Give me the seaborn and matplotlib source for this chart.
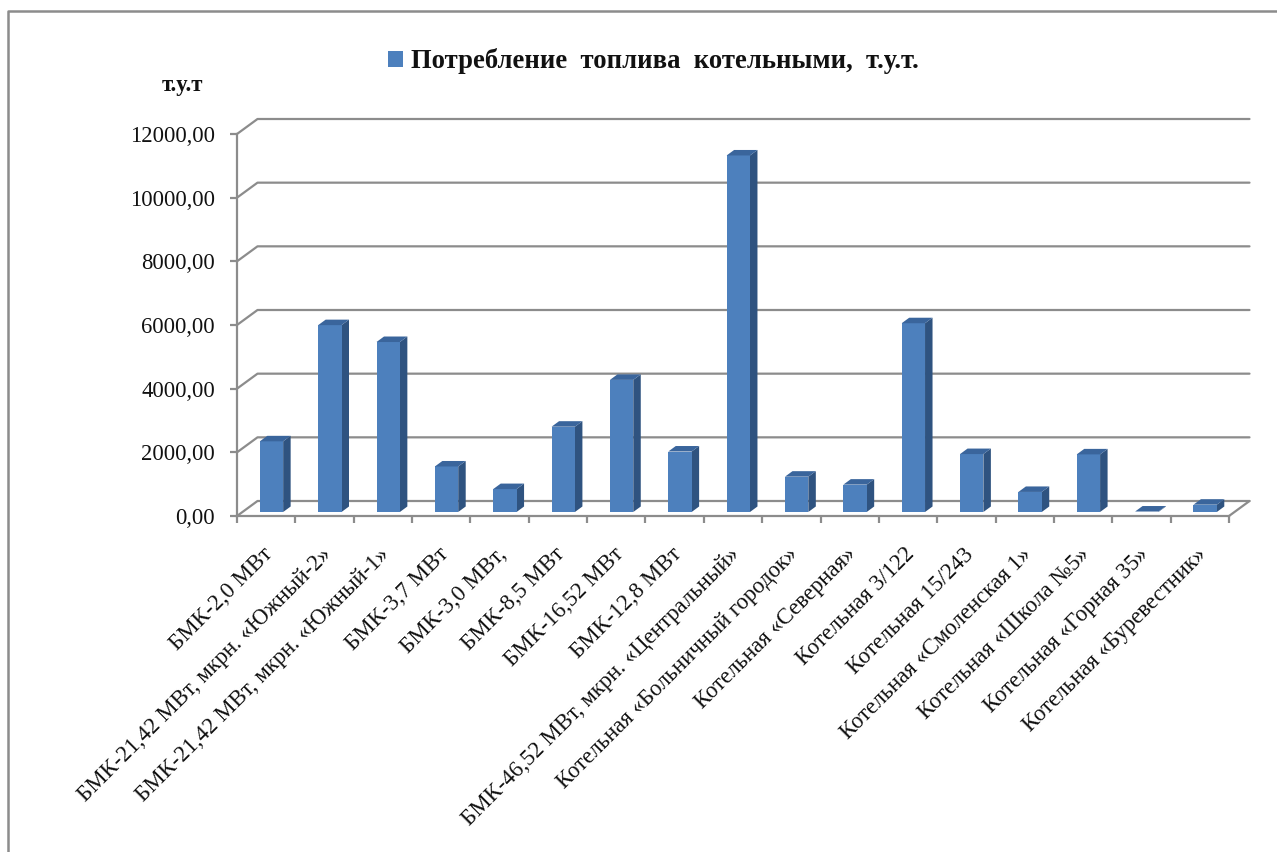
import matplotlib
matplotlib.use("Agg")
import matplotlib.pyplot as plt
from matplotlib.lines import Line2D
from matplotlib.patches import Polygon
from matplotlib.transforms import ScaledTranslation
import pandas as pd
import seaborn as sns

names = ["БМК-2,0 МВт", "БМК-21,42 МВт, мкрн. «Южный-2»", "БМК-21,42 МВт, мкрн. «Южный-1»",
         "БМК-3,7 МВт", "БМК-3,0 МВт,", "БМК-8,5 МВт", "БМК-16,52 МВт", "БМК-12,8 МВт",
         "БМК-46,52 МВт, мкрн. «Центральный»", "Котельная «Больничный городок»",
         "Котельная «Северная»", "Котельная 3/122", "Котельная 15/243",
         "Котельная «Смоленская 1»", "Котельная «Школа №5»", "Котельная «Горная 35»",
         "Котельная «Буревестник»"]
values = [2220, 5870, 5340, 1430, 720, 2680, 4150, 1900, 11200, 1110, 860, 5930, 1820, 630, 1810, 15, 230]
yticks = [0, 2000, 4000, 6000, 8000, 10000, 12000]
series = "Потребление  топлива  котельными,  т.у.т."

W, H = 1277, 852
sns.set_theme(style="white")
plt.rcParams["font.family"] = ["Liberation Serif", "DejaVu Serif"]
GRAY = "#8c8c8c"
FRONT, SIDE, TOP = "#4d80bd", "#2f5380", "#3a659c"
INK = "#111111"

fig = plt.figure(figsize=(W / 100, H / 100), dpi=100)

def make_axes(l, r, top, bottom):
    return fig.add_axes([l / W, 1 - bottom / H, (r - l) / W, (bottom - top) / H])

ax = make_axes(237, 1229, 134, 516)
bx = make_axes(242.3, 1234.3, 130, 512)
bx.patch.set_visible(False)
n = len(names)
for a in (ax, bx):
    a.set_xlim(-0.5, n - 0.5)
    a.set_ylim(0, 12000)

# floor/back wall depth in data units
px_x = n / 992
px_y = 12000 / 382
wall_dx, wall_dy = 20.5 * px_x, 15 * px_y
ax.set_xticks([i - 0.5 for i in range(n + 1)], [""] * (n + 1))
ax.set_yticks(yticks, [f"{v},00" for v in yticks], fontsize=16.3, color=INK)
ax.tick_params(axis="both", direction="out", length=5, width=1.6, color=GRAY, bottom=True, left=True)
ax.tick_params(axis="y", pad=11)
for s in ("top", "right"):
    ax.spines[s].set_visible(False)
for s in ("left", "bottom"):
    ax.spines[s].set_color(GRAY)
    ax.spines[s].set_linewidth(1.6)
x0, x1 = -0.5, n - 0.5
for v in yticks:
    ax.plot([x0, x0 + wall_dx, x1 + wall_dx], [v, v + wall_dy, v + wall_dy],
            color=GRAY, lw=1.6, clip_on=False, zorder=1)
ax.plot([x1, x1 + wall_dx], [0, wall_dy], color=GRAY, lw=1.6, clip_on=False, zorder=1)

# bars
df = pd.DataFrame({"name": names, "value": values})
sns.barplot(data=df, x="name", y="value", color=FRONT, saturation=1, width=0.4, ax=bx,
            label=series, zorder=3, errorbar=None, edgecolor="none", linewidth=0)
bx.set_xlim(-0.5, n - 0.5)
bx.set_ylim(0, 12000)
bx.set_xlabel("")
bx.set_ylabel("")
hw = 0.2
dx, dy = 7.5 * px_x, 5.5 * px_y
for i, v in enumerate(values):
    bx.add_patch(Polygon([(i - hw, v), (i + hw, v), (i + hw + dx, v + dy), (i - hw + dx, v + dy)],
                         closed=True, fc=TOP, ec="none", zorder=4, clip_on=False))
    bx.add_patch(Polygon([(i + hw, 0), (i + hw + dx, dy), (i + hw + dx, v + dy), (i + hw, v)],
                         closed=True, fc=SIDE, ec="none", zorder=2, clip_on=False))
bx.set_yticks([])
for s in bx.spines.values():
    s.set_visible(False)
bx.set_xticks(range(n))
bx.set_xticklabels(names, rotation=45, ha="right", rotation_mode="anchor", fontsize=16.4, color=INK)
bx.tick_params(axis="x", length=0, pad=23)
shift = ScaledTranslation(-9 / 100, 0, fig.dpi_scale_trans)
for lab in bx.get_xticklabels():
    lab.set_transform(lab.get_transform() + shift)

leg = bx.legend(loc="center left", bbox_to_anchor=(375 / W, 1 - 61 / H), bbox_transform=fig.transFigure,
                frameon=False, handlelength=0.55, handleheight=0.55, handletextpad=0.3,
                borderpad=0, prop={"size": 19.2, "weight": "bold"})
for t in leg.get_texts():
    t.set_color(INK)
fig.text(182.5 / W, 1 - 85 / H, "т.у.т", ha="center", va="center", fontsize=16.5, fontweight="bold", color=INK)

# outer chart frame
fig.add_artist(Line2D([8 / W, 8 / W, 1], [0, 1 - 10.5 / H, 1 - 10.5 / H], color=GRAY, lw=1.8))

fig.savefig("out.png", dpi=100)
